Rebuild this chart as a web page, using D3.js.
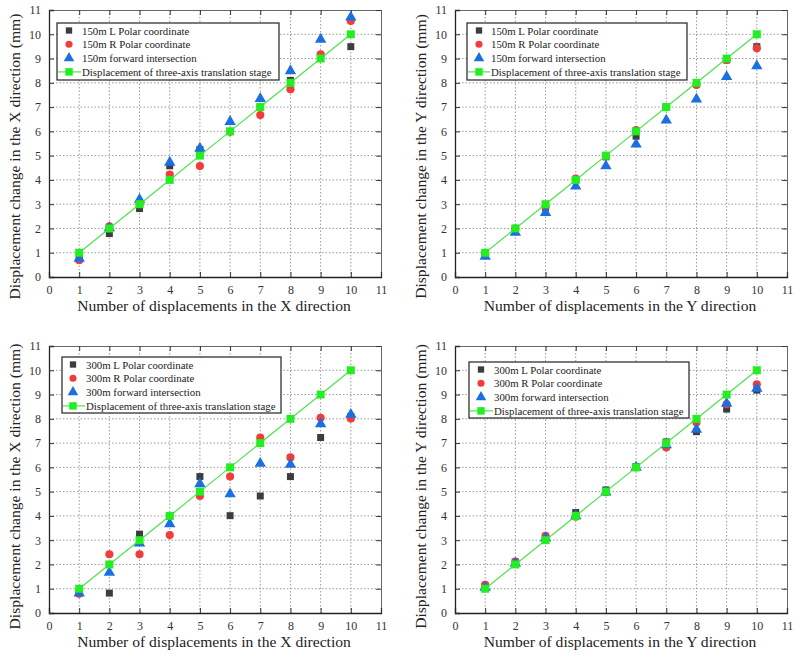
<!DOCTYPE html>
<html><head><meta charset="utf-8">
<script src="https://cdn.jsdelivr.net/npm/d3@7"></script>
<style>
html,body{margin:0;padding:0;background:#fff;}
svg{display:block;font-family:"Liberation Serif","Times New Roman",serif;}
</style></head>
<body><svg id="c" width="797" height="656"></svg>
<script>
const stepsX = [1,2,3,4,5,6,7,8,9,10];
const ticks = [0,1,2,3,4,5,6,7,8,9,10,11];
const stage = [1,2,3,4,5,6,7,8,9,10];

// Panel 1: 150 m, X direction
const p1L = [0.75,1.79,2.82,4.58,5.25,6.0,7.0,8.1,9.1,9.49];
const p1R = [0.69,2.09,3.0,4.22,4.57,5.98,6.67,7.73,9.17,10.55];
const p1F = [0.76,2.02,3.19,4.72,5.3,6.4,7.35,8.49,9.79,10.7];
// Panel 2: 150 m, Y direction
const p2L = [0.95,2.0,2.85,4.0,4.95,5.8,7.0,7.95,8.94,9.49];
const p2R = [0.95,2.0,2.89,4.06,4.97,6.05,7.0,7.91,8.94,9.42];
const p2F = [0.85,1.83,2.65,3.74,4.57,5.47,6.46,7.32,8.25,8.69];
// Panel 3: 300 m, X direction
const p3L = [0.85,0.82,3.25,4.0,5.62,4.01,4.82,5.62,7.23,8.1];
const p3R = [0.79,2.42,2.42,3.21,4.82,5.62,7.23,6.41,8.04,8.01];
const p3F = [0.82,1.67,2.88,3.67,5.32,4.9,6.16,6.12,7.79,8.18];
// Panel 4: 300 m, Y direction
const p4L = [1.1,2.1,3.1,4.14,5.07,6.03,7.05,7.47,8.4,9.18];
const p4R = [1.16,2.12,3.18,3.97,4.98,6.0,6.82,7.85,8.6,9.42];
const p4F = [1.05,2.05,3.08,4.0,4.98,6.0,6.92,7.56,8.63,9.25];

const legend150 = ["150m L Polar coordinate","150m R Polar coordinate","150m forward intersection","Displacement of three-axis translation stage"];
const legend300 = ["300m L Polar coordinate","300m R Polar coordinate","300m forward intersection","Displacement of three-axis translation stage"];
const xTitleX = "Number of displacements in the X direction";
const xTitleY = "Number of displacements in the Y direction";
const yTitleX = "Displacement change  in the X direction (mm)";
const yTitleY = "Displacement change  in the Y direction (mm)";

const COL = {L:"#3d3d3d", R:"#f23c3c", F:"#1b6fe0", S:"#22ee22", line:"#4ce44c"};

const panels = [
  {l:49, r:381, t:10, b:277, L:p1L, R:p1R, F:p1F, leg:legend150, xt:xTitleX, yt:yTitleX, yo:13, lg:{x:57, y:23, w:222, h:57, mx:69, tx:81}},
  {l:455, r:787, t:10, b:277, L:p2L, R:p2R, F:p2F, leg:legend150, xt:xTitleY, yt:yTitleY, yo:13, lg:{x:467, y:23, w:220, h:57, mx:479, tx:490}},
  {l:49, r:381, t:346, b:613, L:p3L, R:p3R, F:p3F, leg:legend300, xt:xTitleX, yt:yTitleX, yo:7, lg:{x:62, y:357, w:219, h:56, mx:73, tx:85}},
  {l:455, r:787, t:346, b:613, L:p4L, R:p4R, F:p4F, leg:legend300, xt:xTitleY, yt:yTitleY, yo:7, lg:{x:469, y:362, w:220, h:56, mx:481, tx:493}}
];

const svg = d3.select("#c");
const sym = {
  L: d3.symbol().type(d3.symbolSquare).size(49),
  R: d3.symbol().type(d3.symbolCircle).size(52),
  F: d3.symbol().type(d3.symbolTriangle).size(56),
  S: d3.symbol().type(d3.symbolSquare).size(64)
};

panels.forEach(p => {
  const g = svg.append("g");
  const x = d3.scaleLinear().domain([0,11]).range([p.l,p.r]);
  const y = d3.scaleLinear().domain([0,11]).range([p.b,p.t]);

  // grid
  const inner = d3.range(1,11);
  g.append("g").selectAll("line.v").data(inner).join("line")
    .attr("x1",d=>x(d)).attr("x2",d=>x(d)).attr("y1",p.t).attr("y2",p.b)
    .attr("stroke","#9a9a9a").attr("stroke-width",1).attr("stroke-dasharray","1.5,2");
  g.append("g").selectAll("line.h").data(inner).join("line")
    .attr("y1",d=>y(d)).attr("y2",d=>y(d)).attr("x1",p.l).attr("x2",p.r)
    .attr("stroke","#9a9a9a").attr("stroke-width",1).attr("stroke-dasharray","1.5,2");

  // axes
  const ax = (gen, tx, ty, labels) => {
    const a = g.append("g").attr("transform",`translate(${tx},${ty})`)
      .call(gen.tickValues(ticks).tickSize(-5).tickPadding(labels?8:0).tickFormat(labels?d3.format("d"):""));
    a.select(".domain").attr("stroke", labels?"#222":"#666").attr("stroke-width", labels?1.3:1);
    a.selectAll(".tick line").attr("stroke","#333");
    a.selectAll("text").attr("font-family","Liberation Serif").attr("font-size",12).attr("fill","#333");
    return a;
  };
  ax(d3.axisTop(x), 0, p.t, false);
  ax(d3.axisRight(y), p.r, 0, false);
  ax(d3.axisBottom(x), 0, p.b, true);
  ax(d3.axisLeft(y), p.l, 0, true);

  // data
  const draw = (vals, k) => {
    g.append("g").selectAll("path").data(vals).join("path")
      .attr("d", sym[k]())
      .attr("transform",(d,i)=>`translate(${x(stepsX[i])},${y(d)})`)
      .attr("fill", COL[k]);
  };
  draw(p.L,"L"); draw(p.R,"R"); draw(p.F,"F");
  const line = d3.line().x((d,i)=>x(stepsX[i])).y(d=>y(d));
  g.append("path").datum(stage).attr("d",line).attr("fill","none").attr("stroke",COL.line).attr("stroke-width",1.2);
  draw(stage,"S");

  // legend
  const lg = p.lg;
  const L = g.append("g");
  L.append("rect").attr("x",lg.x).attr("y",lg.y).attr("width",lg.w).attr("height",lg.h)
    .attr("fill","#fff").attr("stroke","#222").attr("stroke-width",1.2);
  const rowY = d3.range(4).map(i => lg.y + 7.5 + i*13.8);
  const keys = ["L","R","F","S"];
  keys.forEach((k,i)=>{
    if(k==="S"){
      L.append("line").attr("x1",lg.x+1).attr("x2",lg.tx).attr("y1",rowY[i]).attr("y2",rowY[i])
        .attr("stroke",COL.line).attr("stroke-width",1.2);
    }
    L.append("path").attr("d", d3.symbol().type(sym[k].type()).size(k==="S"?56:k==="F"?48:40)())
      .attr("transform",`translate(${lg.mx},${rowY[i]})`).attr("fill",COL[k]);
    L.append("text").attr("x",lg.tx+1).attr("y",rowY[i]+4).text(p.leg[i])
      .attr("font-size",10.8).attr("fill","#222");
  });

  // titles
  g.append("text").attr("x",(p.l+p.r)/2 - 1).attr("y",p.b+34).attr("text-anchor","middle")
    .attr("font-size",15.6).attr("fill","#222").text(p.xt);
  g.append("text").attr("transform",`translate(${p.l-29},${(p.t+p.b)/2+p.yo}) rotate(-90)`)
    .attr("text-anchor","middle").attr("font-size",15.6).attr("fill","#222").text(p.yt);
});
</script></body></html>
